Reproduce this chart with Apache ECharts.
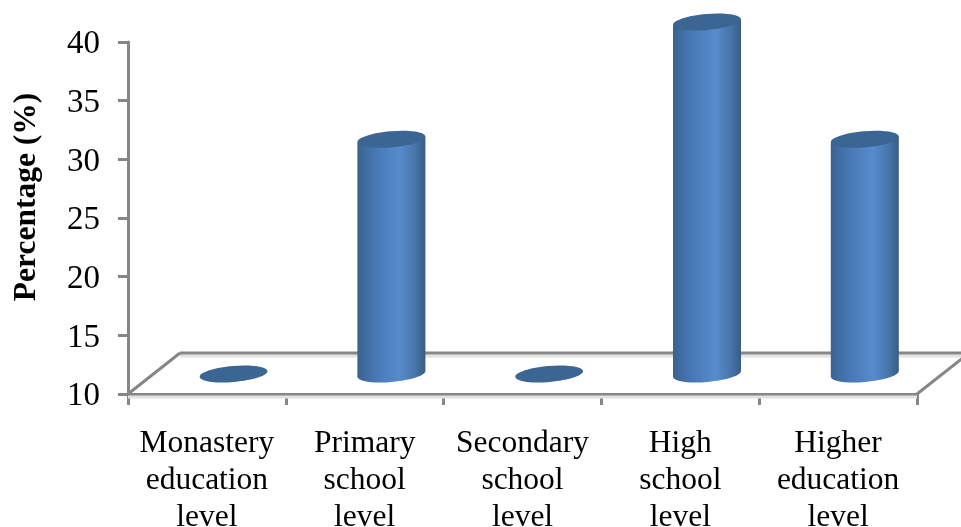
<!DOCTYPE html>
<html>
<head>
<meta charset="utf-8">
<style>html,body{margin:0;padding:0;background:#fff}#chart{width:961px;height:527px}</style>
<script src="https://cdn.jsdelivr.net/npm/echarts@6/dist/echarts.min.js"></script>
</head>
<body>
<div id="chart"></div>
<script>
// Education level shares, drawn as oblique cylinders standing on a floor
const categories = [
  'Monastery\neducation\nlevel',
  'Primary\nschool\nlevel',
  'Secondary\nschool\nlevel',
  'High\nschool\nlevel',
  'Higher\neducation\nlevel'
];
const percentages = [10, 30, 10, 40, 30];
const axisMin = 10;
const axisMax = 40;
const axisStep = 5;
const axisName = 'Percentage (%)';

// Oblique depth of the floor, in pixels
const DEPTH_X = 52;
const DEPTH_Y = 41;
const LINE = '#868686';
const SHADOW = '#e2e2e2';
const FONT = '"Liberation Serif", "Times New Roman", serif';

const chart = echarts.init(document.getElementById('chart'), null, { renderer: 'canvas' });

function seg(x1, y1, x2, y2, color, w) {
  return {
    type: 'line',
    shape: { x1, y1, x2, y2 },
    style: { stroke: color, lineWidth: w, fill: null },
    silent: true
  };
}

function renderFloor(params, api) {
  const halfBand = api.size([1, 0])[0] / 2;
  const first = api.coord([0, axisMin]);
  const last = api.coord([categories.length - 1, axisMin]);
  const ax = first[0] - halfBand;
  const bx = last[0] + halfBand;
  const y = first[1];
  const backY = y - DEPTH_Y;
  return {
    type: 'group',
    children: [
      seg(ax, y + 3, bx, y + 3, SHADOW, 3),
      seg(ax + DEPTH_X, backY + 3, bx + DEPTH_X, backY + 3, SHADOW, 3),
      seg(ax + DEPTH_X, backY, bx + DEPTH_X, backY, LINE, 3),
      seg(ax, y, ax + DEPTH_X, backY, LINE, 3),
      seg(bx, y, bx + DEPTH_X, backY, LINE, 3)
    ]
  };
}

function renderCylinder(params, api) {
  const top = api.coord([api.value(0), api.value(1)]);
  const base = api.coord([api.value(0), axisMin]);
  const cx = top[0] + DEPTH_X / 2 + 0.7;
  const topY = top[1] - DEPTH_Y / 2 + 0.5;
  const baseY = base[1] - DEPTH_Y / 2 + 0.5;
  const rx = 34;
  const ry = 8;
  const tilt = 0.085;
  const rise = rx * Math.sin(tilt);
  const side = new echarts.graphic.LinearGradient(0, 0, 1, 0, [
    { offset: 0, color: '#3a6290' },
    { offset: 0.25, color: '#4677b3' },
    { offset: 0.62, color: '#578ccc' },
    { offset: 0.85, color: '#4875aa' },
    { offset: 1, color: '#385c84' }
  ]);
  const children = [];
  if (topY < baseY) {
    children.push({
      type: 'ellipse',
      shape: { cx, cy: baseY, rx, ry },
      originX: cx, originY: baseY, rotation: tilt,
      style: { fill: side }
    });
    children.push({
      type: 'polygon',
      shape: { points: [
        [cx - rx, topY + rise],
        [cx + rx, topY - rise],
        [cx + rx, baseY - rise],
        [cx - rx, baseY + rise]
      ] },
      style: { fill: side }
    });
  }
  children.push({
    type: 'ellipse',
    shape: { cx, cy: topY, rx, ry },
    originX: cx, originY: topY, rotation: tilt,
    style: { fill: '#3b6592' }
  });
  return { type: 'group', children };
}

chart.setOption({
  animation: false,
  backgroundColor: '#ffffff',
  grid: { left: 128, right: 44, top: 42, bottom: 133, outerBoundsMode: 'none' },
  xAxis: {
    type: 'category',
    data: categories,
    boundaryGap: true,
    axisLine: { show: true, lineStyle: { color: LINE, width: 3 } },
    axisTick: { show: true, alignWithLabel: false, length: 11, lineStyle: { color: LINE, width: 3 } },
    axisLabel: { color: '#000', fontFamily: FONT, fontSize: 31.5, lineHeight: 37, margin: 31, interval: 0 }
  },
  yAxis: {
    type: 'value',
    min: axisMin,
    max: axisMax,
    interval: axisStep,
    name: axisName,
    nameLocation: 'middle',
    nameGap: 85,
    nameTextStyle: { color: '#000', fontFamily: FONT, fontSize: 31.5, fontWeight: 'bold', padding: [0, 0, 0, 42] },
    splitLine: { show: false },
    axisLine: { show: true, lineStyle: { color: LINE, width: 3 } },
    axisTick: { show: true, length: 10, lineStyle: { color: LINE, width: 3 } },
    axisLabel: { color: '#000', fontFamily: FONT, fontSize: 33, margin: 28, verticalAlign: 'top', lineHeight: 5 }
  },
  series: [
    {
      type: 'custom',
      clip: false,
      silent: true,
      z: 1,
      renderItem: renderFloor,
      encode: { x: 0, y: 1 },
      data: [[0, axisMin]]
    },
    {
      type: 'custom',
      clip: false,
      silent: true,
      z: 2,
      renderItem: renderCylinder,
      encode: { x: 0, y: 1 },
      data: percentages.map((v, i) => [i, v])
    }
  ]
});
</script>
</body>
</html>
